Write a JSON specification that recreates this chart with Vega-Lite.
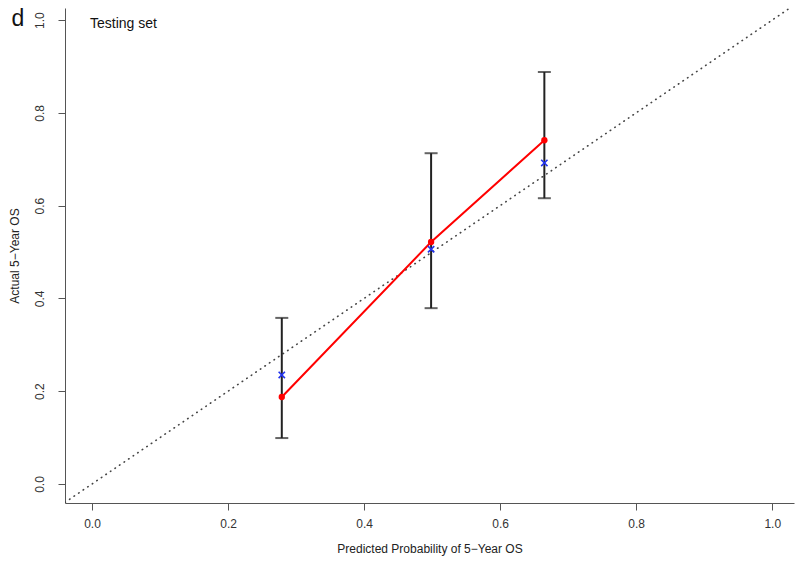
{
  "$schema": "https://vega.github.io/schema/vega-lite/v6.json",
  "autosize": "none",
  "width": 729,
  "height": 495,
  "padding": {"left": 65, "top": 8, "right": 6, "bottom": 63},
  "background": "white",
  "config": {
    "view": {"stroke": null},
    "font": "Liberation Sans",
    "axis": {
      "grid": false,
      "domainColor": "#555555",
      "tickColor": "#555555",
      "tickSize": 7,
      "labelFont": "Liberation Sans",
      "labelFontSize": 12,
      "labelColor": "#333333",
      "titleFont": "Liberation Sans",
      "titleFontSize": 12,
      "titleFontWeight": "normal",
      "titleColor": "#222222"
    }
  },
  "datasets": {
    "cal": [
      {"pred": 0.279, "obs": 0.1875, "km": 0.235, "lo": 0.099, "hi": 0.358},
      {"pred": 0.4985, "obs": 0.5216, "km": 0.506, "lo": 0.379, "hi": 0.713},
      {"pred": 0.665, "obs": 0.741, "km": 0.692, "lo": 0.616, "hi": 0.888}
    ],
    "diag": [{"a": -0.2, "b": -0.2, "a2": 1.2, "b2": 1.2}],
    "labels": [
      {"tx": -0.003, "ty": 0.991, "label": "Testing set", "kind": "sub"},
      {"tx": -0.109, "ty": 1.003, "label": "d", "kind": "panel"}
    ]
  },
  "layer": [
    {
      "data": {"name": "diag"},
      "mark": {"type": "rule", "clip": true, "color": "#444444", "strokeWidth": 1.6, "strokeDash": [0.5, 5], "strokeCap": "round"},
      "encoding": {
        "x": {"field": "a", "type": "quantitative", "scale": {"domain": [-0.0397, 1.032], "nice": false, "zero": false},
          "axis": {"values": [0, 0.2, 0.4, 0.6, 0.8, 1.0], "format": ".1f", "title": "Predicted Probability of 5\u2212Year OS", "labelPadding": 8, "titlePadding": 14}},
        "y": {"field": "b", "type": "quantitative", "scale": {"domain": [-0.041, 1.026], "nice": false, "zero": false},
          "axis": {"values": [0, 0.2, 0.4, 0.6, 0.8, 1.0], "format": ".1f", "title": "Actual 5\u2212Year OS", "labelAngle": -90, "labelAlign": "center", "labelBaseline": "bottom", "labelPadding": 12, "titlePadding": 12}},
        "x2": {"field": "a2"},
        "y2": {"field": "b2"}
      }
    },
    {
      "data": {"name": "cal"},
      "mark": {"type": "rule", "color": "#222222", "strokeWidth": 2},
      "encoding": {
        "x": {"field": "pred", "type": "quantitative"},
        "y": {"field": "lo", "type": "quantitative"},
        "y2": {"field": "hi"}
      }
    },
    {
      "data": {"name": "cal"},
      "mark": {"type": "tick", "orient": "horizontal", "color": "#222222", "thickness": 2, "size": 13},
      "encoding": {
        "x": {"field": "pred", "type": "quantitative"},
        "y": {"field": "lo", "type": "quantitative"}
      }
    },
    {
      "data": {"name": "cal"},
      "mark": {"type": "tick", "orient": "horizontal", "color": "#222222", "thickness": 2, "size": 13},
      "encoding": {
        "x": {"field": "pred", "type": "quantitative"},
        "y": {"field": "hi", "type": "quantitative"}
      }
    },
    {
      "data": {"name": "cal"},
      "mark": {"type": "line", "color": "#ff0000", "strokeWidth": 2},
      "encoding": {
        "x": {"field": "pred", "type": "quantitative"},
        "y": {"field": "obs", "type": "quantitative"}
      }
    },
    {
      "data": {"name": "cal"},
      "mark": {"type": "point", "shape": "circle", "filled": true, "color": "#ff0000", "size": 40, "opacity": 1},
      "encoding": {
        "x": {"field": "pred", "type": "quantitative"},
        "y": {"field": "obs", "type": "quantitative"}
      }
    },
    {
      "data": {"name": "cal"},
      "mark": {"type": "point", "shape": "M-1,-1L1,1M-1,1L1,-1", "filled": false, "color": "#2233ee", "strokeWidth": 1.6, "size": 40, "opacity": 1},
      "encoding": {
        "x": {"field": "pred", "type": "quantitative"},
        "y": {"field": "km", "type": "quantitative"}
      }
    },
    {
      "data": {"name": "labels"},
      "transform": [{"filter": "datum.kind == 'sub'"}],
      "mark": {"type": "text", "align": "left", "baseline": "middle", "fontSize": 14, "color": "#111111", "font": "Liberation Sans"},
      "encoding": {
        "x": {"field": "tx", "type": "quantitative"},
        "y": {"field": "ty", "type": "quantitative"},
        "text": {"field": "label"}
      }
    },
    {
      "data": {"name": "labels"},
      "transform": [{"filter": "datum.kind == 'panel'"}],
      "mark": {"type": "text", "align": "center", "baseline": "middle", "fontSize": 23, "color": "#111111", "font": "Liberation Sans", "clip": false},
      "encoding": {
        "x": {"field": "tx", "type": "quantitative"},
        "y": {"field": "ty", "type": "quantitative"},
        "text": {"field": "label"}
      }
    }
  ]
}
